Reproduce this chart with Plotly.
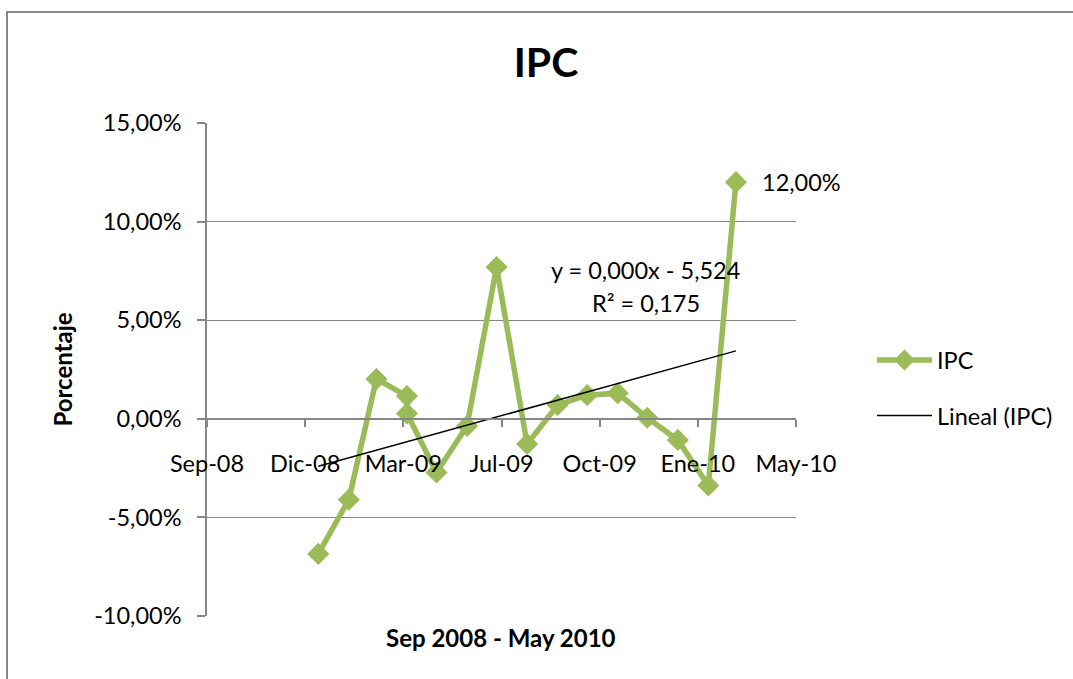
import numpy as np
import pandas as pd
import plotly.graph_objects as go

# ---- data ----
dates = ["2009-01-01", "2009-02-01", "2009-03-01", "2009-04-01", "2009-04-01",
         "2009-05-01", "2009-06-01", "2009-07-01", "2009-08-01", "2009-09-01",
         "2009-10-01", "2009-11-01", "2009-12-01", "2010-01-01", "2010-02-01",
         "2010-03-01"]
ipc = [-6.85, -4.10, 2.02, 1.15, 0.27, -2.72, -0.36, 7.70, -1.28, 0.70,
       1.20, 1.30, 0.05, -1.07, -3.38, 12.00]
tick_labels = ["Sep-08", "Dic-08", "Mar-09", "Jul-09", "Oct-09", "Ene-10", "May-10"]
y_ticks = [-10, -5, 0, 5, 10, 15]
y_tick_labels = ["-10,00%", "-5,00%", "0,00%", "5,00%", "10,00%", "15,00%"]
equation_text = "y = 0,000x - 5,524"
r2_text = "R² = 0,175"

GREEN = "#9BBB59"
GRAY = "#868686"
FONT = "Lato"
FS = 23.5

x = pd.to_datetime(dates)
days = (x - x[0]).days.values.astype(float)
coef = np.polyfit(days, ipc, 1)
trend_x = [x[0], x[-1]]
trend_y = [np.polyval(coef, days[0]), np.polyval(coef, days[-1])]

axis_start = pd.Timestamp("2008-09-10")
axis_end = pd.Timestamp("2010-05-01")
n = len(tick_labels) - 1
tick_vals = [axis_start + (axis_end - axis_start) * i / n for i in range(n + 1)]

fig = go.Figure()
fig.add_trace(go.Scatter(
    x=x, y=ipc, name="IPC", mode="lines+markers", legendgroup="a",
    line=dict(color=GREEN, width=5.5),
    marker=dict(symbol="diamond", size=17, color=GREEN),
))
fig.add_trace(go.Scatter(
    x=trend_x, y=trend_y, name="Lineal (IPC)", mode="lines", legendgroup="b",
    line=dict(color="black", width=1.5),
))

fig.update_layout(
    width=1073, height=679,
    margin=dict(l=207, r=277, t=123, b=63),
    paper_bgcolor="white", plot_bgcolor="white",
    font=dict(family=FONT, size=FS, color="black"),
    title=dict(text="<b>IPC</b>", x=546 / 1073, xanchor="center",
               y=1 - 63 / 679, yanchor="middle",
               font=dict(family=FONT, size=41, color="black")),
    showlegend=True,
    legend=dict(x=1.129, xanchor="left", y=0.462, yanchor="middle",
                font=dict(family=FONT, size=FS), tracegroupgap=22,
                itemwidth=55, bgcolor="rgba(0,0,0,0)"),
    hovermode=False,
)

fig.update_xaxes(
    type="date", range=[axis_start, axis_end],
    tickvals=tick_vals, ticktext=tick_labels,
    anchor="free", position=0.4,
    showline=True, linecolor=GRAY, linewidth=1.5,
    ticks="outside", ticklen=7, tickcolor=GRAY, tickwidth=1.5,
    ticklabelstandoff=17,
    showgrid=False, zeroline=False,
    tickfont=dict(family=FONT, size=FS),
)
fig.update_yaxes(
    range=[-10, 15], tickvals=y_ticks, ticktext=y_tick_labels,
    showline=True, linecolor=GRAY, linewidth=1.5,
    ticks="outside", ticklen=8, tickcolor=GRAY, tickwidth=1.5,
    ticklabelstandoff=11,
    showgrid=True, gridcolor=GRAY, gridwidth=1.2,
    zeroline=False,
    tickfont=dict(family=FONT, size=FS),
)

# data label on last point
fig.add_annotation(x=x[-1], y=ipc[-1], text=f"{ipc[-1]:.2f}%".replace(".", ","),
                   showarrow=False, xanchor="left", yanchor="middle", xshift=24,
                   font=dict(family=FONT, size=FS))
# trendline equation
fig.add_annotation(xref="paper", yref="paper", x=0.745, y=0.702, text=equation_text,
                   showarrow=False, xanchor="center", yanchor="middle",
                   font=dict(family=FONT, size=FS))
fig.add_annotation(xref="paper", yref="paper", x=0.745, y=0.635, text=r2_text,
                   showarrow=False, xanchor="center", yanchor="middle",
                   font=dict(family=FONT, size=FS))
# axis titles
fig.add_annotation(xref="paper", yref="paper", x=0.499, y=-0.043,
                   text="<b>Sep 2008 - May 2010</b>", showarrow=False,
                   xanchor="center", yanchor="middle",
                   font=dict(family=FONT, size=24))
fig.add_annotation(xref="paper", yref="paper", x=-0.246, y=0.5,
                   text="<b>Porcentaje</b>", showarrow=False, textangle=-90,
                   xanchor="center", yanchor="middle",
                   font=dict(family=FONT, size=24))

# chart-area border (extends beyond the visible page on right and bottom)
fig.add_shape(type="rect", xref="paper", yref="paper",
              x0=(7 - 207) / 589, x1=(1090 - 207) / 589,
              y0=(616 - 700) / 493, y1=(616 - 12) / 493,
              line=dict(color=GRAY, width=2), fillcolor="rgba(0,0,0,0)",
              layer="below")

fig.write_html("out.html",
               config={"displayModeBar": False},
               post_script="document.body.style.margin='0px';")
